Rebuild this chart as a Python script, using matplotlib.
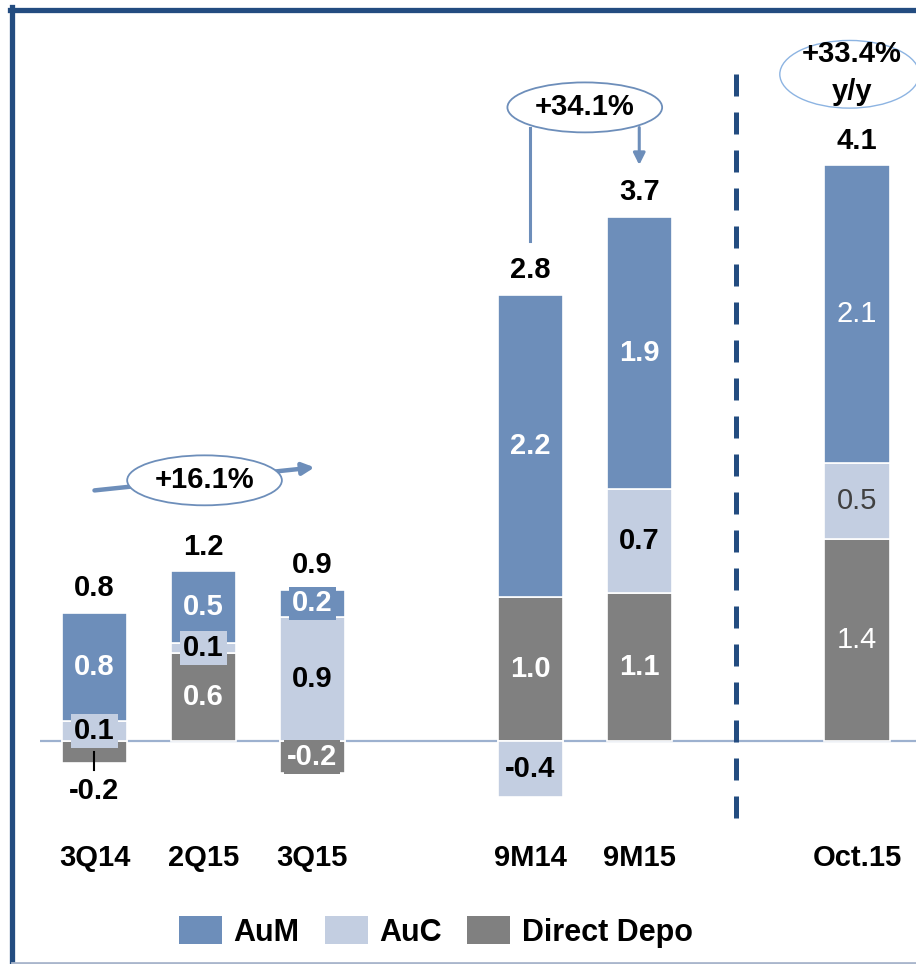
import numpy as np
import matplotlib
matplotlib.use('Agg')
import matplotlib.pyplot as plt
from matplotlib.patches import Ellipse, Patch
from matplotlib.lines import Line2D

plt.rcParams['font.family'] = ['Liberation Sans', 'DejaVu Sans']

###################################
# data
###################################
categories = ['3Q14', '2Q15', '3Q15', '9M14', '9M15', 'Oct.15']
slots = [0, 1, 2, 4, 5, 7]

aum = [0.75, 0.50, 0.19, 2.10, 1.89, 2.07]
auc = [0.14, 0.07, 0.86, -0.39, 0.72, 0.53]
direct = [-0.15, 0.61, -0.22, 1.00, 1.03, 1.40]

aum_labels = ['0.8', '0.5', '0.2', '2.2', '1.9', '2.1']
auc_labels = ['0.1', '0.1', '0.9', '-0.4', '0.7', '0.5']
direct_labels = ['-0.2', '0.6', '-0.2', '1.0', '1.1', '1.4']
total_labels = ['0.8', '1.2', '0.9', '2.8', '3.7', '4.1']

c_aum = '#6D8EBA'
c_auc = '#C3CEE1'
c_dir = '#808080'
c_frame = '#234C80'
FS = 21

fig = plt.figure(figsize=(9.16, 9.64), dpi=100)
ax = fig.add_axes([40/916, (964-820)/964, 876/916, 800/964])
ax.set_xlim(-0.5, 7.54)
ax.set_ylim(-0.549, 5.007)
ax.axis('off')

# baseline
ax.axhline(0, color='#9DB1CF', lw=1.6, zorder=1)

# stacked bars: positives up from zero (direct, auc, aum), negatives down
series = [(direct, c_dir), (auc, c_auc), (aum, c_aum)]
seg = {}  # (series idx, bar idx) -> (bottom, height)
tops = []
for i, x in enumerate(slots):
    pos = 0.0
    neg = 0.0
    for s, (vals, col) in enumerate(series):
        v = vals[i]
        if v >= 0:
            b = pos
            pos += v
        else:
            b = neg
            neg += v
        ax.bar(x, v, bottom=b, width=0.6, color=col, edgecolor='white',
               lw=1.2, zorder=2)
        seg[(s, i)] = (b, v)
    tops.append(pos)

def mid(s, i):
    b, v = seg[(s, i)]
    return b + v / 2

# totals above bars
for i, x in enumerate(slots):
    ax.text(x, tops[i] + 0.17, total_labels[i], ha='center', va='center',
            fontsize=FS, fontweight='bold', color='black', zorder=5)

# segment labels
small_box = {('aum', 1): c_aum, ('aum', 2): c_aum, ('auc', 0): c_auc,
             ('auc', 1): c_auc, ('dir', 2): c_dir}
names = ['dir', 'auc', 'aum']
label_lists = [direct_labels, auc_labels, aum_labels]
for i, x in enumerate(slots):
    for s in range(3):
        name = names[s]
        txt = label_lists[s][i]
        if name == 'dir' and i == 0:
            # label below the bar with a leader line
            ax.plot([x, x], [-0.08, -0.2], color='black', lw=1.5, zorder=4)
            ax.text(x, -0.35, txt, ha='center', va='center', fontsize=FS,
                    fontweight='bold', color='black', zorder=5)
            continue
        if i == 5:
            col = '#404040' if name == 'auc' else 'white'
            ax.text(x, mid(s, i), txt, ha='center', va='center', fontsize=FS,
                    color=col, zorder=5)
            continue
        col = 'black' if name == 'auc' else 'white'
        bbox = None
        if (name, i) in small_box:
            bbox = dict(boxstyle='square,pad=0.1', fc=small_box[(name, i)],
                        ec='none')
        ax.text(x, mid(s, i), txt, ha='center', va='center', fontsize=FS,
                fontweight='bold', color=col, bbox=bbox, zorder=5)

# category labels
for i, x in enumerate(slots):
    ax.text(x, -0.81, categories[i], ha='center', va='center', fontsize=FS,
            fontweight='bold', color='black', clip_on=False)

# dashed separator
ax.plot([5.89, 5.89], [-0.535, 4.69], color=c_frame, lw=3.6,
        dashes=(4.4, 3.2), zorder=3, clip_on=False)

# +16.1% annotation
ax.annotate('', xy=(2.02, 1.90), xytext=(0.0, 1.74),
            arrowprops=dict(arrowstyle='-|>,head_length=0.7,head_width=0.35',
                            color=c_aum, lw=3.2, shrinkA=0, shrinkB=0), zorder=3)
ax.add_patch(Ellipse((1.01, 1.81), 1.42, 0.347, fc='white', ec=c_aum,
                     lw=1.3, zorder=4))
ax.text(1.01, 1.81, '+16.1%', ha='center', va='center', fontsize=FS,
        fontweight='bold', zorder=5)

# +34.1% annotation
ax.plot([4.0, 4.0], [4.26, 3.47], color=c_aum, lw=2.2, zorder=3)
ax.annotate('', xy=(5.0, 4.0), xytext=(5.0, 4.26),
            arrowprops=dict(arrowstyle='-|>,head_length=0.7,head_width=0.35',
                            color=c_aum, lw=2.2, shrinkA=0, shrinkB=0), zorder=3)
ax.add_patch(Ellipse((4.50, 4.40), 1.42, 0.347, fc='white', ec=c_aum,
                     lw=1.3, zorder=4))
ax.text(4.50, 4.40, '+34.1%', ha='center', va='center', fontsize=FS,
        fontweight='bold', zorder=5)

# +33.4% y/y annotation
ax.add_patch(Ellipse((6.93, 4.63), 1.28, 0.47, fc='none', ec='#8DB4E2',
                     lw=1.0, zorder=4, clip_on=False))
ax.text(6.95, 4.77, '+33.4%', ha='center', va='center', fontsize=FS,
        fontweight='bold', zorder=5, clip_on=False)
ax.text(6.95, 4.51, 'y/y', ha='center', va='center', fontsize=FS,
        fontweight='bold', zorder=5, clip_on=False)

# legend
handles = [Patch(fc=c_aum, ec='none'), Patch(fc=c_auc, ec='none'),
           Patch(fc=c_dir, ec='none')]
fig.legend(handles, ['AuM', 'AuC', 'Direct Depo'], loc='center',
           bbox_to_anchor=(436/916, 1 - 932/964), ncol=3, frameon=False,
           prop=dict(size=22, weight='bold'), handlelength=1.41,
           handleheight=1.0, handletextpad=0.39, columnspacing=0.82)

# frame lines
fig.add_artist(Line2D([12/916, 12/916], [0, 1 - 7/964], color=c_frame, lw=3.8))
fig.add_artist(Line2D([10/916, 1], [1 - 9.5/964, 1 - 9.5/964], color=c_frame, lw=3.8))
fig.add_artist(Line2D([12/916, 1], [1.5/964, 1.5/964], color='#A9B6CC', lw=2))

plt.savefig('out.png', dpi=100)
